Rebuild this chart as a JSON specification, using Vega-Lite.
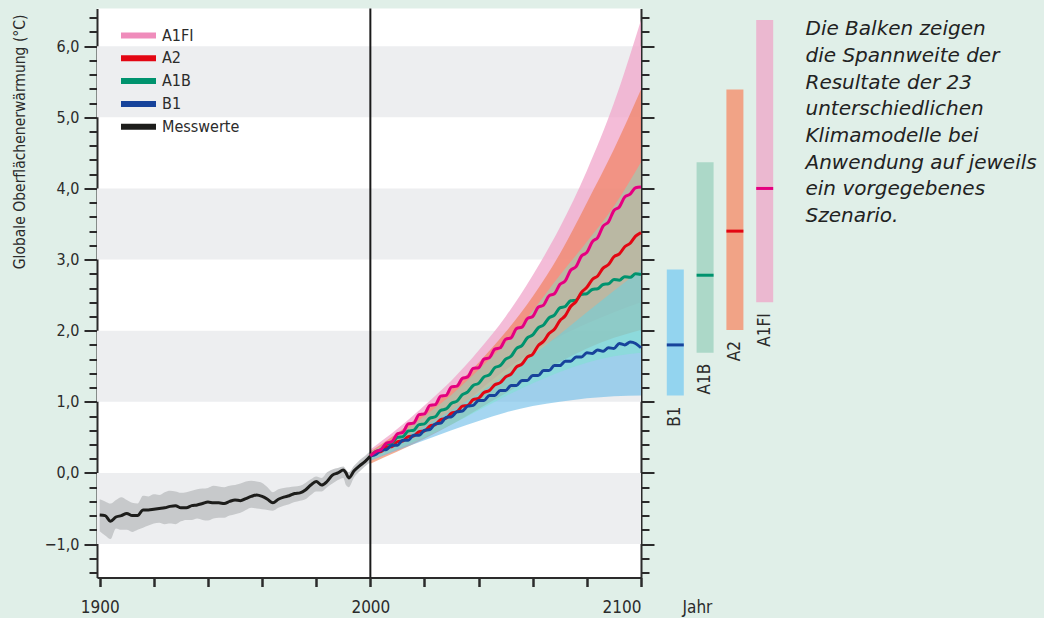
{
"$schema": "https://vega.github.io/schema/vega-lite/v6.json",
"background": "#e0efe8",
"padding": {"left": 12, "top": 7.5, "right": 8, "bottom": 4},
"bounds": "flush",
"spacing": 34.3,
"config": {
  "view": {"stroke": null},
  "font": "Liberation Sans Narrow, Arial Narrow, DejaVu Sans Condensed, sans-serif",
  "axis": {"zindex": 1}
},
"datasets": {
  "stripes": [{"lo": -1, "hi": 0}, {"lo": 1, "hi": 2}, {"lo": 3, "hi": 4}, {"lo": 5, "hi": 6}],
  "obs": [
    {"year":1900,"lo":-0.82,"hi":-0.37},{"year":1902,"lo":-0.88,"hi":-0.40},{"year":1904,"lo":-0.93,"hi":-0.43},{"year":1906,"lo":-0.78,"hi":-0.38},
    {"year":1908,"lo":-0.80,"hi":-0.34},{"year":1910,"lo":-0.80,"hi":-0.38},{"year":1912,"lo":-0.83,"hi":-0.42},{"year":1914,"lo":-0.80,"hi":-0.43},
    {"year":1916,"lo":-0.77,"hi":-0.32},{"year":1918,"lo":-0.74,"hi":-0.33},{"year":1920,"lo":-0.71,"hi":-0.30},{"year":1922,"lo":-0.70,"hi":-0.31},
    {"year":1924,"lo":-0.72,"hi":-0.27},{"year":1926,"lo":-0.71,"hi":-0.25},{"year":1928,"lo":-0.72,"hi":-0.26},{"year":1930,"lo":-0.68,"hi":-0.28},
    {"year":1932,"lo":-0.66,"hi":-0.27},{"year":1934,"lo":-0.66,"hi":-0.25},{"year":1936,"lo":-0.64,"hi":-0.23},{"year":1938,"lo":-0.66,"hi":-0.22},
    {"year":1940,"lo":-0.67,"hi":-0.21},{"year":1942,"lo":-0.64,"hi":-0.18},{"year":1944,"lo":-0.63,"hi":-0.19},{"year":1946,"lo":-0.63,"hi":-0.20},
    {"year":1948,"lo":-0.60,"hi":-0.18},{"year":1950,"lo":-0.58,"hi":-0.17},{"year":1952,"lo":-0.56,"hi":-0.15},{"year":1954,"lo":-0.52,"hi":-0.12},
    {"year":1956,"lo":-0.49,"hi":-0.11},{"year":1958,"lo":-0.50,"hi":-0.12},{"year":1960,"lo":-0.51,"hi":-0.14},{"year":1962,"lo":-0.52,"hi":-0.20},
    {"year":1964,"lo":-0.53,"hi":-0.27},{"year":1966,"lo":-0.49,"hi":-0.23},{"year":1968,"lo":-0.46,"hi":-0.21},{"year":1970,"lo":-0.44,"hi":-0.20},
    {"year":1972,"lo":-0.41,"hi":-0.19},{"year":1974,"lo":-0.39,"hi":-0.18},{"year":1976,"lo":-0.37,"hi":-0.14},{"year":1978,"lo":-0.31,"hi":-0.09},
    {"year":1980,"lo":-0.26,"hi":-0.05},{"year":1982,"lo":-0.26,"hi":-0.07},{"year":1984,"lo":-0.20,"hi":0.01},{"year":1986,"lo":-0.15,"hi":0.05},
    {"year":1988,"lo":-0.10,"hi":0.07},{"year":1990,"lo":-0.07,"hi":0.09},{"year":1991,"lo":-0.17,"hi":0.05},{"year":1992,"lo":-0.20,"hi":0.01},
    {"year":1994,"lo":-0.06,"hi":0.10},{"year":1996,"lo":0.02,"hi":0.18},{"year":1998,"lo":0.09,"hi":0.24},{"year":2000,"lo":0.15,"hi":0.31}
  ],
  "bands": [
    {"s":"A1FI","year":2000,"lo":0.20,"hi":0.33},{"s":"A1FI","year":2010,"lo":0.38,"hi":0.62},{"s":"A1FI","year":2020,"lo":0.58,"hi":0.95},{"s":"A1FI","year":2030,"lo":0.82,"hi":1.30},
    {"s":"A1FI","year":2040,"lo":1.15,"hi":1.72},{"s":"A1FI","year":2050,"lo":1.45,"hi":2.20},{"s":"A1FI","year":2060,"lo":1.70,"hi":2.78},{"s":"A1FI","year":2070,"lo":1.92,"hi":3.45},
    {"s":"A1FI","year":2080,"lo":2.10,"hi":4.25},{"s":"A1FI","year":2090,"lo":2.26,"hi":5.20},{"s":"A1FI","year":2100,"lo":2.40,"hi":6.37},
    {"s":"A2","year":2000,"lo":0.13,"hi":0.30},{"s":"A2","year":2010,"lo":0.30,"hi":0.56},{"s":"A2","year":2020,"lo":0.48,"hi":0.86},{"s":"A2","year":2030,"lo":0.68,"hi":1.18},
    {"s":"A2","year":2040,"lo":0.90,"hi":1.55},{"s":"A2","year":2050,"lo":1.12,"hi":1.98},{"s":"A2","year":2060,"lo":1.35,"hi":2.48},{"s":"A2","year":2070,"lo":1.56,"hi":3.08},
    {"s":"A2","year":2080,"lo":1.75,"hi":3.80},{"s":"A2","year":2090,"lo":1.90,"hi":4.55},{"s":"A2","year":2100,"lo":2.01,"hi":5.39},
    {"s":"A1B","year":2000,"lo":0.18,"hi":0.29},{"s":"A1B","year":2010,"lo":0.34,"hi":0.52},{"s":"A1B","year":2020,"lo":0.50,"hi":0.80},{"s":"A1B","year":2030,"lo":0.68,"hi":1.10},
    {"s":"A1B","year":2040,"lo":0.88,"hi":1.45},{"s":"A1B","year":2050,"lo":1.08,"hi":1.83},{"s":"A1B","year":2060,"lo":1.26,"hi":2.28},{"s":"A1B","year":2070,"lo":1.42,"hi":2.78},
    {"s":"A1B","year":2080,"lo":1.55,"hi":3.25},{"s":"A1B","year":2090,"lo":1.64,"hi":3.75},{"s":"A1B","year":2100,"lo":1.69,"hi":4.37},
    {"s":"B1","year":2000,"lo":0.17,"hi":0.27},{"s":"B1","year":2010,"lo":0.32,"hi":0.46},{"s":"B1","year":2020,"lo":0.46,"hi":0.66},{"s":"B1","year":2030,"lo":0.60,"hi":0.88},
    {"s":"B1","year":2040,"lo":0.73,"hi":1.12},{"s":"B1","year":2050,"lo":0.85,"hi":1.38},{"s":"B1","year":2060,"lo":0.94,"hi":1.66},{"s":"B1","year":2070,"lo":1.00,"hi":1.95},
    {"s":"B1","year":2080,"lo":1.05,"hi":2.26},{"s":"B1","year":2090,"lo":1.08,"hi":2.56},{"s":"B1","year":2100,"lo":1.09,"hi":2.86}
  ],
  "lines": [
    {"s":"Messwerte","year":1900,"v":-0.59},{"s":"Messwerte","year":1902,"v":-0.60},{"s":"Messwerte","year":1904,"v":-0.68},{"s":"Messwerte","year":1906,"v":-0.62},
    {"s":"Messwerte","year":1908,"v":-0.60},{"s":"Messwerte","year":1910,"v":-0.57},{"s":"Messwerte","year":1912,"v":-0.60},{"s":"Messwerte","year":1914,"v":-0.60},
    {"s":"Messwerte","year":1916,"v":-0.52},{"s":"Messwerte","year":1918,"v":-0.52},{"s":"Messwerte","year":1920,"v":-0.51},{"s":"Messwerte","year":1922,"v":-0.50},
    {"s":"Messwerte","year":1924,"v":-0.49},{"s":"Messwerte","year":1926,"v":-0.47},{"s":"Messwerte","year":1928,"v":-0.46},{"s":"Messwerte","year":1930,"v":-0.49},
    {"s":"Messwerte","year":1932,"v":-0.49},{"s":"Messwerte","year":1934,"v":-0.46},{"s":"Messwerte","year":1936,"v":-0.45},{"s":"Messwerte","year":1938,"v":-0.43},
    {"s":"Messwerte","year":1940,"v":-0.41},{"s":"Messwerte","year":1942,"v":-0.42},{"s":"Messwerte","year":1944,"v":-0.42},{"s":"Messwerte","year":1946,"v":-0.43},
    {"s":"Messwerte","year":1948,"v":-0.40},{"s":"Messwerte","year":1950,"v":-0.38},{"s":"Messwerte","year":1952,"v":-0.39},{"s":"Messwerte","year":1954,"v":-0.36},
    {"s":"Messwerte","year":1956,"v":-0.33},{"s":"Messwerte","year":1958,"v":-0.31},{"s":"Messwerte","year":1960,"v":-0.33},{"s":"Messwerte","year":1962,"v":-0.37},
    {"s":"Messwerte","year":1964,"v":-0.42},{"s":"Messwerte","year":1966,"v":-0.37},{"s":"Messwerte","year":1968,"v":-0.34},{"s":"Messwerte","year":1970,"v":-0.32},
    {"s":"Messwerte","year":1972,"v":-0.29},{"s":"Messwerte","year":1974,"v":-0.28},{"s":"Messwerte","year":1976,"v":-0.24},{"s":"Messwerte","year":1978,"v":-0.17},
    {"s":"Messwerte","year":1980,"v":-0.12},{"s":"Messwerte","year":1982,"v":-0.17},{"s":"Messwerte","year":1984,"v":-0.12},{"s":"Messwerte","year":1986,"v":-0.03},
    {"s":"Messwerte","year":1988,"v":0.00},{"s":"Messwerte","year":1990,"v":0.04},{"s":"Messwerte","year":1991,"v":0.00},{"s":"Messwerte","year":1992,"v":-0.07},
    {"s":"Messwerte","year":1994,"v":0.03},{"s":"Messwerte","year":1996,"v":0.10},{"s":"Messwerte","year":1998,"v":0.16},{"s":"Messwerte","year":2000,"v":0.24},

    {"s":"A1FI","year":2000,"v":0.24},{"s":"A1FI","year":2002,"v":0.30},{"s":"A1FI","year":2004,"v":0.33},{"s":"A1FI","year":2006,"v":0.42},
    {"s":"A1FI","year":2008,"v":0.44},{"s":"A1FI","year":2010,"v":0.55},{"s":"A1FI","year":2012,"v":0.57},{"s":"A1FI","year":2014,"v":0.69},
    {"s":"A1FI","year":2016,"v":0.70},{"s":"A1FI","year":2018,"v":0.82},{"s":"A1FI","year":2020,"v":0.83},{"s":"A1FI","year":2022,"v":0.95},
    {"s":"A1FI","year":2024,"v":0.96},{"s":"A1FI","year":2026,"v":1.08},{"s":"A1FI","year":2028,"v":1.09},{"s":"A1FI","year":2030,"v":1.21},
    {"s":"A1FI","year":2032,"v":1.22},{"s":"A1FI","year":2034,"v":1.33},{"s":"A1FI","year":2036,"v":1.35},{"s":"A1FI","year":2038,"v":1.47},
    {"s":"A1FI","year":2040,"v":1.48},{"s":"A1FI","year":2042,"v":1.60},{"s":"A1FI","year":2044,"v":1.62},{"s":"A1FI","year":2046,"v":1.74},
    {"s":"A1FI","year":2048,"v":1.76},{"s":"A1FI","year":2050,"v":1.88},{"s":"A1FI","year":2052,"v":1.90},{"s":"A1FI","year":2054,"v":2.03},
    {"s":"A1FI","year":2056,"v":2.05},{"s":"A1FI","year":2058,"v":2.17},{"s":"A1FI","year":2060,"v":2.20},{"s":"A1FI","year":2062,"v":2.33},
    {"s":"A1FI","year":2064,"v":2.36},{"s":"A1FI","year":2066,"v":2.49},{"s":"A1FI","year":2068,"v":2.52},{"s":"A1FI","year":2070,"v":2.65},
    {"s":"A1FI","year":2072,"v":2.70},{"s":"A1FI","year":2074,"v":2.85},{"s":"A1FI","year":2076,"v":2.90},{"s":"A1FI","year":2078,"v":3.05},
    {"s":"A1FI","year":2080,"v":3.10},{"s":"A1FI","year":2082,"v":3.25},{"s":"A1FI","year":2084,"v":3.31},{"s":"A1FI","year":2086,"v":3.47},
    {"s":"A1FI","year":2088,"v":3.53},{"s":"A1FI","year":2090,"v":3.69},{"s":"A1FI","year":2092,"v":3.74},{"s":"A1FI","year":2094,"v":3.88},
    {"s":"A1FI","year":2096,"v":3.92},{"s":"A1FI","year":2098,"v":4.01},{"s":"A1FI","year":2100,"v":4.02},

    {"s":"A1B","year":2000,"v":0.24},{"s":"A1B","year":2002,"v":0.30},{"s":"A1B","year":2004,"v":0.33},{"s":"A1B","year":2006,"v":0.41},
    {"s":"A1B","year":2008,"v":0.42},{"s":"A1B","year":2010,"v":0.50},{"s":"A1B","year":2012,"v":0.51},{"s":"A1B","year":2014,"v":0.59},
    {"s":"A1B","year":2016,"v":0.60},{"s":"A1B","year":2018,"v":0.68},{"s":"A1B","year":2020,"v":0.69},{"s":"A1B","year":2022,"v":0.77},
    {"s":"A1B","year":2024,"v":0.79},{"s":"A1B","year":2026,"v":0.88},{"s":"A1B","year":2028,"v":0.90},{"s":"A1B","year":2030,"v":0.98},
    {"s":"A1B","year":2032,"v":1.01},{"s":"A1B","year":2034,"v":1.10},{"s":"A1B","year":2036,"v":1.14},{"s":"A1B","year":2038,"v":1.23},
    {"s":"A1B","year":2040,"v":1.26},{"s":"A1B","year":2042,"v":1.35},{"s":"A1B","year":2044,"v":1.38},{"s":"A1B","year":2046,"v":1.48},
    {"s":"A1B","year":2048,"v":1.51},{"s":"A1B","year":2050,"v":1.60},{"s":"A1B","year":2052,"v":1.64},{"s":"A1B","year":2054,"v":1.75},
    {"s":"A1B","year":2056,"v":1.79},{"s":"A1B","year":2058,"v":1.90},{"s":"A1B","year":2060,"v":1.94},{"s":"A1B","year":2062,"v":2.04},
    {"s":"A1B","year":2064,"v":2.08},{"s":"A1B","year":2066,"v":2.18},{"s":"A1B","year":2068,"v":2.22},{"s":"A1B","year":2070,"v":2.32},
    {"s":"A1B","year":2072,"v":2.34},{"s":"A1B","year":2074,"v":2.42},{"s":"A1B","year":2076,"v":2.43},{"s":"A1B","year":2078,"v":2.51},
    {"s":"A1B","year":2080,"v":2.52},{"s":"A1B","year":2082,"v":2.58},{"s":"A1B","year":2084,"v":2.59},{"s":"A1B","year":2086,"v":2.65},
    {"s":"A1B","year":2088,"v":2.66},{"s":"A1B","year":2090,"v":2.72},{"s":"A1B","year":2092,"v":2.71},{"s":"A1B","year":2094,"v":2.76},
    {"s":"A1B","year":2096,"v":2.75},{"s":"A1B","year":2098,"v":2.80},{"s":"A1B","year":2100,"v":2.79},

    {"s":"A2","year":2000,"v":0.24},{"s":"A2","year":2002,"v":0.29},{"s":"A2","year":2004,"v":0.30},{"s":"A2","year":2006,"v":0.37},
    {"s":"A2","year":2008,"v":0.37},{"s":"A2","year":2010,"v":0.44},{"s":"A2","year":2012,"v":0.45},{"s":"A2","year":2014,"v":0.51},
    {"s":"A2","year":2016,"v":0.52},{"s":"A2","year":2018,"v":0.58},{"s":"A2","year":2020,"v":0.59},{"s":"A2","year":2022,"v":0.66},
    {"s":"A2","year":2024,"v":0.68},{"s":"A2","year":2026,"v":0.75},{"s":"A2","year":2028,"v":0.77},{"s":"A2","year":2030,"v":0.84},
    {"s":"A2","year":2032,"v":0.86},{"s":"A2","year":2034,"v":0.94},{"s":"A2","year":2036,"v":0.95},{"s":"A2","year":2038,"v":1.03},
    {"s":"A2","year":2040,"v":1.05},{"s":"A2","year":2042,"v":1.13},{"s":"A2","year":2044,"v":1.16},{"s":"A2","year":2046,"v":1.24},
    {"s":"A2","year":2048,"v":1.27},{"s":"A2","year":2050,"v":1.35},{"s":"A2","year":2052,"v":1.39},{"s":"A2","year":2054,"v":1.49},
    {"s":"A2","year":2056,"v":1.53},{"s":"A2","year":2058,"v":1.63},{"s":"A2","year":2060,"v":1.67},{"s":"A2","year":2062,"v":1.79},
    {"s":"A2","year":2064,"v":1.85},{"s":"A2","year":2066,"v":1.96},{"s":"A2","year":2068,"v":2.02},{"s":"A2","year":2070,"v":2.14},
    {"s":"A2","year":2072,"v":2.21},{"s":"A2","year":2074,"v":2.34},{"s":"A2","year":2076,"v":2.41},{"s":"A2","year":2078,"v":2.54},
    {"s":"A2","year":2080,"v":2.61},{"s":"A2","year":2082,"v":2.72},{"s":"A2","year":2084,"v":2.77},{"s":"A2","year":2086,"v":2.88},
    {"s":"A2","year":2088,"v":2.93},{"s":"A2","year":2090,"v":3.04},{"s":"A2","year":2092,"v":3.08},{"s":"A2","year":2094,"v":3.18},
    {"s":"A2","year":2096,"v":3.23},{"s":"A2","year":2098,"v":3.33},{"s":"A2","year":2100,"v":3.38},

    {"s":"B1","year":2000,"v":0.24},{"s":"B1","year":2002,"v":0.26},{"s":"B1","year":2004,"v":0.32},{"s":"B1","year":2006,"v":0.33},
    {"s":"B1","year":2008,"v":0.39},{"s":"B1","year":2010,"v":0.39},{"s":"B1","year":2012,"v":0.46},{"s":"B1","year":2014,"v":0.46},
    {"s":"B1","year":2016,"v":0.53},{"s":"B1","year":2018,"v":0.53},{"s":"B1","year":2020,"v":0.60},{"s":"B1","year":2022,"v":0.61},
    {"s":"B1","year":2024,"v":0.69},{"s":"B1","year":2026,"v":0.70},{"s":"B1","year":2028,"v":0.78},{"s":"B1","year":2030,"v":0.79},
    {"s":"B1","year":2032,"v":0.86},{"s":"B1","year":2034,"v":0.87},{"s":"B1","year":2036,"v":0.94},{"s":"B1","year":2038,"v":0.95},
    {"s":"B1","year":2040,"v":1.02},{"s":"B1","year":2042,"v":1.02},{"s":"B1","year":2044,"v":1.09},{"s":"B1","year":2046,"v":1.09},
    {"s":"B1","year":2048,"v":1.16},{"s":"B1","year":2050,"v":1.16},{"s":"B1","year":2052,"v":1.23},{"s":"B1","year":2054,"v":1.23},
    {"s":"B1","year":2056,"v":1.30},{"s":"B1","year":2058,"v":1.30},{"s":"B1","year":2060,"v":1.37},{"s":"B1","year":2062,"v":1.37},
    {"s":"B1","year":2064,"v":1.44},{"s":"B1","year":2066,"v":1.44},{"s":"B1","year":2068,"v":1.51},{"s":"B1","year":2070,"v":1.51},
    {"s":"B1","year":2072,"v":1.57},{"s":"B1","year":2074,"v":1.57},{"s":"B1","year":2076,"v":1.63},{"s":"B1","year":2078,"v":1.63},
    {"s":"B1","year":2080,"v":1.69},{"s":"B1","year":2082,"v":1.68},{"s":"B1","year":2084,"v":1.73},{"s":"B1","year":2086,"v":1.71},
    {"s":"B1","year":2088,"v":1.76},{"s":"B1","year":2090,"v":1.75},{"s":"B1","year":2092,"v":1.82},{"s":"B1","year":2094,"v":1.80},
    {"s":"B1","year":2096,"v":1.84},{"s":"B1","year":2098,"v":1.82},{"s":"B1","year":2100,"v":1.76}
  ],
  "ranges": [
    {"s":"B1","lo":1.09,"hi":2.86,"m":1.80},
    {"s":"A1B","lo":1.69,"hi":4.37,"m":2.78},
    {"s":"A2","lo":2.01,"hi":5.39,"m":3.40},
    {"s":"A1FI","lo":2.40,"hi":6.37,"m":4.00}
  ],
  "note": [
    {"s":"Hinweis","t":"Die Balken zeigen\ndie Spannweite der\nResultate der 23\nunterschiedlichen\nKlimamodelle bei\nAnwendung auf jeweils\nein vorgegebenes\nSzenario."}
  ]
},
"hconcat": [
  {
    "width": 544,
    "height": 569,
    "view": {"fill": "#ffffff", "stroke": null},
    "layer": [
      {
        "data": {"name": "stripes"},
        "mark": {"type": "rect", "color": "#edeef0"},
        "encoding": {
          "x": {"datum": 1899, "type": "quantitative", "scale": {"domain": [1899, 2100], "nice": false, "zero": false}},
          "x2": {"datum": 2100},
          "y": {"field": "lo", "type": "quantitative",
                "scale": {"domain": [-1.47, 6.53], "nice": false, "zero": false},
                "axis": {
                  "orient": "left",
                  "values": [-1.4,-1.2,-1,-0.8,-0.6,-0.4,-0.2,0,0.2,0.4,0.6,0.8,1,1.2,1.4,1.6,1.8,2,2.2,2.4,2.6,2.8,3,3.2,3.4,3.6,3.8,4,4.2,4.4,4.6,4.8,5,5.2,5.4,5.6,5.8,6,6.2,6.4],
                  "labelExpr": "abs(datum.value - round(datum.value)) < 0.001 ? replace(format(datum.value, '.1f'), '.', ',') : ''",
                  "labelOverlap": false,
                  "labelFontSize": 16,
                  "labelColor": "#2b2b2b",
                  "labelPadding": 5,
                  "tickSize": {"condition": {"test": "abs(datum.value - round(datum.value)) < 0.001", "value": 13}, "value": 8},
                  "tickWidth": 2,
                  "tickColor": "#2b2b2b",
                  "domainColor": "#2b2b2b",
                  "domainWidth": 2,
                  "grid": false,
                  "title": "Globale Oberflächenerwärmung (°C)",
                  "titleFontSize": 15.5,
                  "titleFontWeight": "normal",
                  "titleColor": "#2b2b2b",
                  "titleAngle": 270,
                  "titleX": -78,
                  "titleY": 5.5,
                  "titleAlign": "right",
                  "titleBaseline": "middle"
                }},
          "y2": {"field": "hi"}
        }
      },
      {
        "data": {"name": "obs"},
        "mark": {"type": "area", "color": "#c7c9cb", "interpolate": "monotone"},
        "encoding": {
          "x": {"field": "year", "type": "quantitative",
                "axis": {
                  "orient": "bottom",
                  "values": [1900,1920,1940,1960,1980,2000,2020,2040,2060,2080,2100],
                  "labelExpr": "datum.value % 100 === 0 ? '' + datum.value : ''",
                  "labelOverlap": false,
                  "labelFontSize": 17,
                  "labelColor": "#2b2b2b",
                  "labelPadding": 13,
                  "tickSize": 9,
                  "tickWidth": 2.5,
                  "tickColor": "#2b2b2b",
                  "domainColor": "#2b2b2b",
                  "domainWidth": 2,
                  "grid": false,
                  "title": "Jahr",
                  "titleFontSize": 17,
                  "titleFontWeight": "normal",
                  "titleColor": "#2b2b2b",
                  "titleX": 585,
                  "titleY": 35,
                  "titleAlign": "left",
                  "titleBaseline": "alphabetic"
                }},
          "y": {"field": "lo", "type": "quantitative",
                "axis": {
                  "orient": "right",
                  "values": [-1.4,-1.2,-1,-0.8,-0.6,-0.4,-0.2,0,0.2,0.4,0.6,0.8,1,1.2,1.4,1.6,1.8,2,2.2,2.4,2.6,2.8,3,3.2,3.4,3.6,3.8,4,4.2,4.4,4.6,4.8,5,5.2,5.4,5.6,5.8,6,6.2,6.4],
                  "labels": false,
                  "tickSize": {"condition": {"test": "abs(datum.value - round(datum.value)) < 0.001", "value": 13}, "value": 8},
                  "tickWidth": 2,
                  "tickColor": "#2b2b2b",
                  "domainColor": "#2b2b2b",
                  "domainWidth": 2,
                  "grid": false,
                  "title": null
                }},
          "y2": {"field": "hi"}
        }
      },
      {
        "data": {"name": "bands"},
        "transform": [{"filter": "datum.s === 'A1FI'"}],
        "mark": {"type": "area", "color": "#f0a6cb", "opacity": 0.75, "interpolate": "monotone"},
        "encoding": {
          "x": {"field": "year", "type": "quantitative"},
          "y": {"field": "lo", "type": "quantitative", "axis": null},
          "y2": {"field": "hi"}
        }
      },
      {
        "data": {"name": "bands"},
        "transform": [{"filter": "datum.s === 'A2'"}],
        "mark": {"type": "area", "color": "#f07a50", "opacity": 0.62, "interpolate": "monotone"},
        "encoding": {
          "x": {"field": "year", "type": "quantitative"},
          "y": {"field": "lo", "type": "quantitative", "axis": null},
          "y2": {"field": "hi"}
        }
      },
      {
        "data": {"name": "bands"},
        "transform": [{"filter": "datum.s === 'B1'"}],
        "mark": {"type": "area", "color": "#69bbe8", "opacity": 0.6, "interpolate": "monotone"},
        "encoding": {
          "x": {"field": "year", "type": "quantitative"},
          "y": {"field": "lo", "type": "quantitative", "axis": null},
          "y2": {"field": "hi"}
        }
      },
      {
        "data": {"name": "bands"},
        "transform": [{"filter": "datum.s === 'A1B'"}],
        "mark": {"type": "area", "color": "#78e6c9", "opacity": 0.45, "interpolate": "monotone"},
        "encoding": {
          "x": {"field": "year", "type": "quantitative"},
          "y": {"field": "lo", "type": "quantitative", "axis": null},
          "y2": {"field": "hi"}
        }
      },
      {
        "data": {"values": [{}]},
        "mark": {"type": "rule", "color": "#1a1a1a", "strokeWidth": 2},
        "encoding": {
          "x": {"datum": 2000, "type": "quantitative"}
        }
      },
      {
        "data": {"name": "lines"},
        "mark": {"type": "line", "strokeWidth": 3, "interpolate": "monotone"},
        "encoding": {
          "x": {"field": "year", "type": "quantitative"},
          "y": {"field": "v", "type": "quantitative", "axis": null},
          "color": {"field": "s", "type": "nominal",
            "scale": {"domain": ["A1FI", "A2", "A1B", "B1", "Messwerte"], "range": ["#ef8cbb", "#e30613", "#00936e", "#17439b", "#1d1d1b"]},
            "legend": {
              "orient": "none",
              "legendX": 21,
              "legendY": 19,
              "title": null,
              "padding": 0,
              "symbolType": "stroke",
              "symbolStrokeWidth": 6,
              "symbolSize": 1225,
              "labelFontSize": 16,
              "labelColor": "#2b2b2b",
              "labelOffset": 3,
              "rowPadding": 6.8,
              "clipHeight": 16
            }}
        }
      },
      {
        "data": {"name": "lines"},
        "transform": [{"filter": "datum.s === 'A1FI'"}],
        "mark": {"type": "line", "strokeWidth": 3, "interpolate": "monotone", "color": "#e4007f"},
        "encoding": {
          "x": {"field": "year", "type": "quantitative"},
          "y": {"field": "v", "type": "quantitative", "axis": null}
        }
      }
    ],
    "resolve": {"axis": {"y": "independent"}}
  },
  {
    "width": 119.2,
    "height": 569,
    "view": {"fill": null, "stroke": null},
    "data": {"name": "ranges"},
    "layer": [
      {
        "mark": {"type": "rule", "strokeWidth": 17, "strokeCap": "butt"},
        "encoding": {
          "x": {"field": "s", "type": "nominal", "scale": {"type": "point", "domain": ["B1", "A1B", "A2", "A1FI", "Hinweis"], "padding": 0}, "axis": null},
          "y": {"field": "lo", "type": "quantitative", "scale": {"domain": [-1.47, 6.53], "nice": false, "zero": false}, "axis": null},
          "y2": {"field": "hi"},
          "stroke": {"field": "s", "type": "nominal", "scale": {"domain": ["B1", "A1B", "A2", "A1FI"], "range": ["#93d4ef", "#acd8c8", "#f1a386", "#ebb8d0"]}, "legend": null}
        }
      },
      {
        "mark": {"type": "tick", "thickness": 3, "size": 17, "opacity": 1},
        "encoding": {
          "x": {"field": "s", "type": "nominal", "axis": null},
          "y": {"field": "m", "type": "quantitative", "axis": null},
          "fill": {"field": "s", "type": "nominal", "scale": {"domain": ["B1", "A1B", "A2", "A1FI"], "range": ["#17439b", "#00936e", "#e30613", "#e4007f"]}, "legend": null}
        }
      },
      {
        "mark": {"type": "text", "angle": 270, "align": "right", "baseline": "middle", "dx": -11, "fontSize": 17, "color": "#2b2b2b"},
        "encoding": {
          "x": {"field": "s", "type": "nominal", "axis": null},
          "y": {"field": "lo", "type": "quantitative", "axis": null},
          "text": {"field": "s"}
        }
      },
      {
        "data": {"name": "note"},
        "mark": {"type": "text", "align": "left", "baseline": "top", "dx": 11, "font": "DejaVu Sans", "fontStyle": "italic", "fontSize": 20, "lineHeight": 26.7, "lineBreak": "\n", "color": "#222222"},
        "encoding": {
          "x": {"field": "s", "type": "nominal", "axis": null},
          "y": {"datum": 6.38, "type": "quantitative", "axis": null},
          "text": {"field": "t"}
        }
      }
    ]
  }
],
"resolve": {"scale": {"y": "shared"}}
}
